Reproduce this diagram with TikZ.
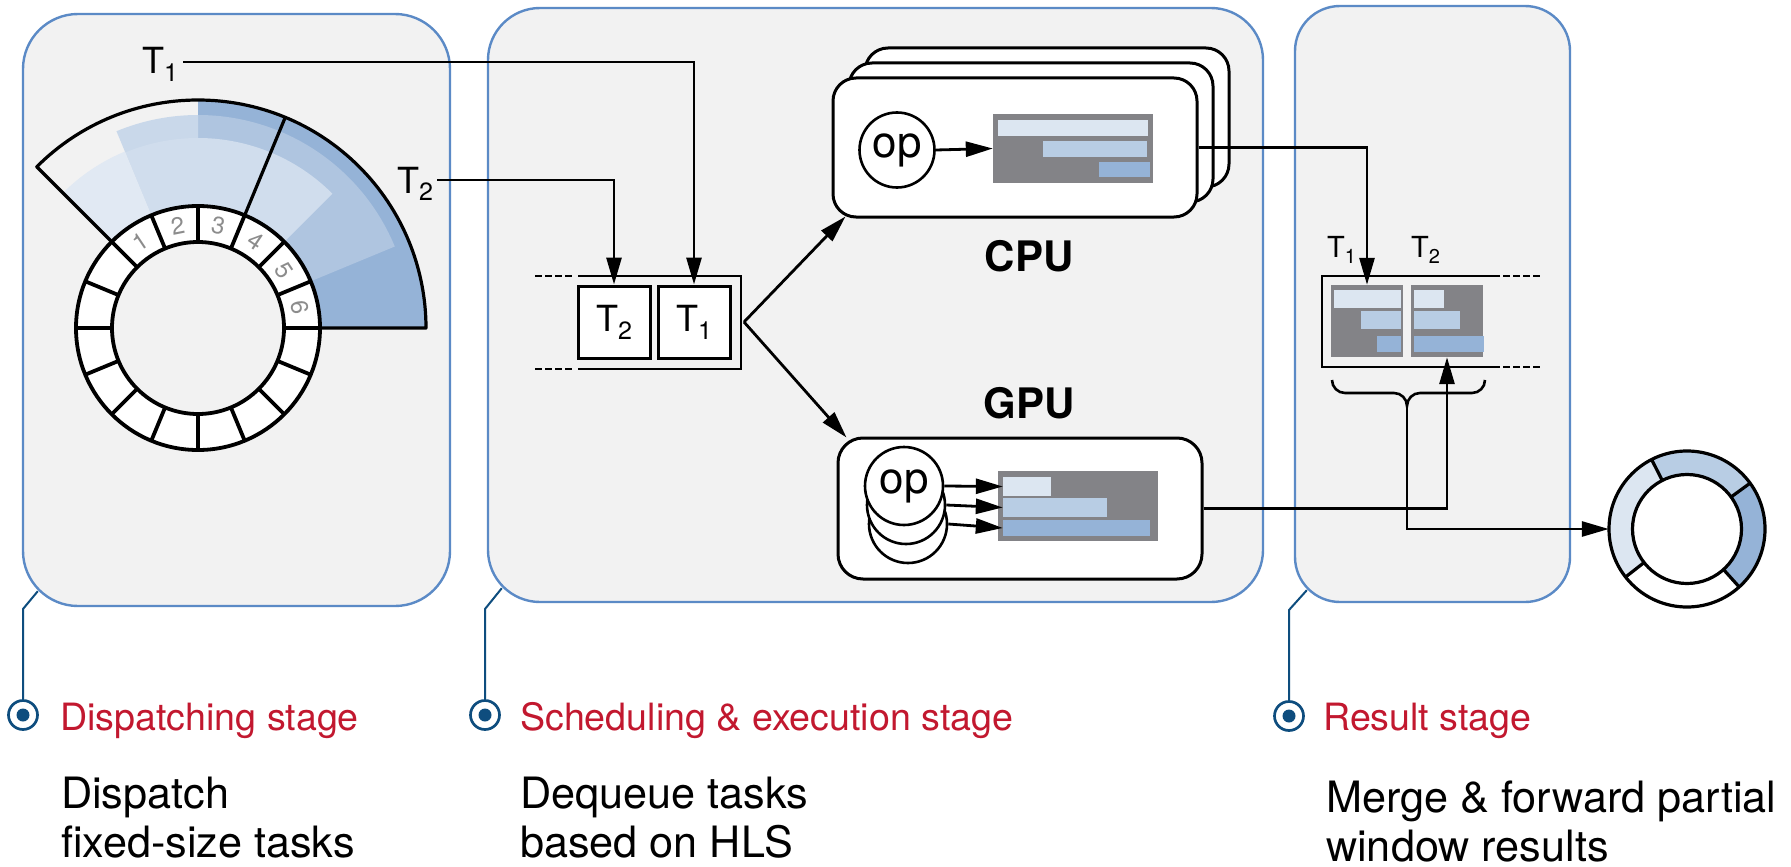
\documentclass[tikz,border=0pt]{standalone}
\usepackage{fontspec}
\setmainfont{TeX Gyre Heros}
\usetikzlibrary{arrows.meta,calc}

\definecolor{stagefill}{HTML}{F2F2F2}
\definecolor{stageline}{HTML}{5B8AC6}
\definecolor{tupA}{HTML}{DCE6F1}
\definecolor{tupB}{HTML}{B8CDE4}
\definecolor{tupC}{HTML}{95B3D7}
\definecolor{fanA}{HTML}{E1E9F3}
\definecolor{fanB}{HTML}{D0DDED}
\definecolor{fanBb}{HTML}{C9D8EA}
\definecolor{fanC}{HTML}{AFC5E0}
\definecolor{fanD}{HTML}{95B3D7}
\definecolor{blockgray}{HTML}{838387}
\definecolor{stagered}{HTML}{C2182F}
\definecolor{markblue}{HTML}{0E4D7E}
\definecolor{numgray}{HTML}{8C8C8C}

% task name with a lowered index, e.g. \Tn{1}{25}
\newcommand{\Tn}[2]{T\raisebox{-0.22em}{\fontsize{#2}{#2}\selectfont #1}}
% annular sector: colour, start angle, end angle, inner radius, outer radius
\newcommand{\fansector}[5]{\fill[#1] (#2:#4) arc[start angle=#2, end angle=#3, radius=#4] -- (#3:#5) arc[start angle=#3, end angle=#2, radius=#5] -- cycle;}

\begin{document}
\begin{tikzpicture}[x=1pt,y=1pt,
  stagebox/.style={draw=stageline, fill=stagefill, line width=2.4pt, inner sep=0pt},
  unitbox/.style={draw=black, fill=white, line width=3pt, inner sep=0pt},
  opnode/.style={circle, draw=black, fill=white, line width=2.6pt, inner sep=0pt, font=\fontsize{44}{44}\selectfont},
  cellbox/.style={draw=black, fill=white, line width=3pt, minimum width=72pt, minimum height=72pt, inner sep=0pt, font=\fontsize{36}{36}\selectfont},
  gblock/.style={fill=blockgray, inner sep=0pt},
  tupbar/.style={inner sep=0pt},
  flow/.style={draw=black, line width=2.8pt, -{Triangle[length=27pt,width=15pt]}},
  plainline/.style={draw=black, line width=2.6pt},
  dashline/.style={draw=black, line width=2.6pt, dash pattern=on 6.5pt off 3.5pt},
  ringline/.style={draw=black, line width=3.8pt},
  fanline/.style={draw=black, line width=3.2pt},
  numlbl/.style={text=numgray, font=\fontsize{24}{24}\selectfont, inner sep=0pt},
  tlabel/.style={font=\fontsize{36}{36}\selectfont, inner sep=0pt},
  tsmall/.style={font=\fontsize{29}{29}\selectfont, inner sep=0pt},
  devlbl/.style={font=\bfseries\fontsize{42}{42}\selectfont, inner sep=0pt},
  stagelbl/.style={text=stagered, font=\fontsize{37.6}{40}\selectfont, inner sep=0pt},
  desc/.style={font=\fontsize{43.2}{49}\selectfont, inner sep=0pt},
  callout/.style={draw=markblue, line width=2pt},
  marker/.style={circle, draw=markblue, line width=2.7pt, fill=white, minimum size=29pt, inner sep=0pt},
]
\useasboundingbox (0,0) rectangle (1791,-867);
\fill[white] (0,0) rectangle (1791,-867);

% ---------- stage panels ----------
\node[stagebox, rounded corners=55pt, minimum width=427pt, minimum height=592pt] (s1) at (236.5,-310) {};
\node[stagebox, rounded corners=52pt, minimum width=775pt, minimum height=594pt] (s2) at (875.5,-305) {};
\node[stagebox, rounded corners=45pt, minimum width=275pt, minimum height=596pt] (s3) at (1432.5,-304) {};

% ---------- ring buffer with task fans ----------
\begin{scope}[shift={(198,-328)}]
  \fansector{fanD}{0}{90}{122pt}{228pt}
  \fansector{fanC}{22.5}{90}{122pt}{213pt}
  \fansector{fanBb}{90}{112.5}{122pt}{213pt}
  \fansector{fanB}{45}{112.5}{122pt}{190pt}
  \fansector{fanA}{112.5}{135}{122pt}{191pt}
  % slots
  \fill[white, even odd rule] (0,0) circle (122pt) (0,0) circle (86pt);
  \foreach \a in {0,22.5,...,337.5} \draw[ringline] (\a:86pt) -- (\a:122pt);
  \draw[ringline] (0,0) circle (122pt);
  \draw[ringline] (0,0) circle (86pt);
  % fan outline
  \draw[fanline, line join=round] (135:122pt) -- (135:228pt) arc[start angle=135, end angle=0, radius=228pt] -- (0:122pt);
  \draw[fanline] (67.5:122pt) -- (67.5:228pt);
  % slot numbers
  \foreach \i/\a in {1/123.75, 2/101.25, 3/78.75, 4/56.25, 5/33.75, 6/11.25}
    \node[numlbl, rotate=\a-90] (slot\i) at (\a:104pt) {\i};
\end{scope}

% ---------- task labels ----------
\node[tlabel, anchor=base west] (lblT1) at (142,-74) {\Tn{1}{25}};
\node[tlabel, anchor=base west] (lblT2) at (397,-193) {\Tn{2}{25}};
\coordinate (t1start) at (183,-62);
\coordinate (t2start) at (437,-180);

% ---------- task queue ----------
\draw[plainline] (578,-276) -- (741,-276) -- (741,-369) -- (578,-369);
\draw[dashline] (535,-276) -- (573,-276);
\draw[dashline] (535,-369) -- (573,-369);
\node[cellbox] (q2) at (614,-322) {\Tn{2}{25}};
\node[cellbox] (q1) at (694,-322) {\Tn{1}{25}};
\coordinate (qout) at (744,-322);

\draw[flow] (t1start) -| (q1.north);
\draw[flow] (t2start) -| (q2.north);

% ---------- CPU workers ----------
\node[unitbox, rounded corners=23pt, minimum width=364pt, minimum height=139pt] (cpu3) at (1047,-117.5) {};
\node[unitbox, rounded corners=23pt, minimum width=364pt, minimum height=139pt] (cpu2) at (1031,-132.5) {};
\node[unitbox, rounded corners=23pt, minimum width=364pt, minimum height=139pt] (cpu) at (1015,-147.5) {};
\node[opnode, minimum size=75pt] (cop) at (897,-150) {op};
\node[gblock, minimum width=160pt, minimum height=69pt] (cblk) at (1073,-148.5) {};
\fill[tupA] (998,-120) rectangle (1148,-136);
\fill[tupB] (1043,-141) rectangle (1147,-157);
\fill[tupC] (1099,-162) rectangle (1150,-177);
\draw[flow] (cop.east) -- (cblk.west);
\node[devlbl, anchor=base] (cpulbl) at (1029,-271) {CPU};

% ---------- GPU worker ----------
\node[unitbox, rounded corners=25pt, minimum width=364pt, minimum height=141pt] (gpu) at (1020,-508.5) {};
\node[opnode, minimum size=78pt] (gop3) at (908,-524) {};
\node[opnode, minimum size=78pt] (gop2) at (906,-505) {};
\node[opnode, minimum size=78pt] (gop1) at (904,-486) {op};
\node[gblock, minimum width=160pt, minimum height=70pt] (gblk) at (1078,-506) {};
\node[tupbar, fill=tupA, minimum width=48pt, minimum height=19pt] (gb1) at (1027,-486.5) {};
\node[tupbar, fill=tupB, minimum width=104pt, minimum height=19pt] (gb2) at (1055,-507.5) {};
\node[tupbar, fill=tupC, minimum width=147pt, minimum height=16pt] (gb3) at (1076.5,-528) {};
\draw[flow] (gop1.east) -- (gb1.west);
\draw[flow] (gop2.east) -- (gb2.west);
\draw[flow] (gop3.east) -- (gb3.west);
\node[devlbl, anchor=base] (gpulbl) at (1029,-418) {GPU};

\draw[flow] (qout) -- ($(cpu.south west)+(14,2)$);
\draw[flow] (qout) -- ($(gpu.north west)+(10,-1)$);

% ---------- result buffer ----------
\draw[plainline] (1500,-276) -- (1322,-276) -- (1322,-367) -- (1500,-367);
\draw[dashline] (1503,-276) -- (1542,-276);
\draw[dashline] (1503,-367) -- (1542,-367);
\node[gblock, minimum width=72pt, minimum height=72pt] (rb1) at (1367,-321) {};
\node[gblock, minimum width=72pt, minimum height=72pt] (rb2) at (1447,-321) {};
\fill[tupA] (1334,-290) rectangle (1401,-308);
\fill[tupB] (1361,-311) rectangle (1401,-329);
\fill[tupC] (1377,-336) rectangle (1401,-352);
\fill[tupA] (1414,-290) rectangle (1444,-308);
\fill[tupB] (1414,-311) rectangle (1460,-329);
\fill[tupC] (1414,-336) rectangle (1484,-352);
\node[tsmall, anchor=base west] (rl1) at (1327,-257) {\Tn{1}{20}};
\node[tsmall, anchor=base west] (rl2) at (1411,-257) {\Tn{2}{20}};

\draw[flow] (cpu.east) -| (rb1.north);
\draw[flow] (gpu.east) -| (rb2.south);

% merge brace
\coordinate (brl) at (1332,-380);
\draw[plainline] (brl) arc[start angle=180, end angle=270, radius=13pt] -- (1394,-393)
  arc[start angle=90, end angle=0, radius=13pt] coordinate (bracetip)
  arc[start angle=180, end angle=90, radius=13pt] -- (1472,-393)
  arc[start angle=270, end angle=360, radius=13pt];

% ---------- window output ring ----------
\node[circle, inner sep=0pt, minimum size=156pt] (win) at (1687,-529) {};
\begin{scope}[shift={(win.center)}]
  \fansector{tupA}{117}{218}{54.5pt}{78pt}
  \fansector{tupB}{36}{117}{54.5pt}{78pt}
  \fansector{tupC}{-48}{36}{54.5pt}{78pt}
  \fansector{white}{218}{312}{54.5pt}{78pt}
  \fill[white] (0,0) circle (54.5pt);
  \draw[fanline] (0,0) circle (78pt);
  \draw[fanline] (0,0) circle (54.5pt);
  \foreach \a in {117,36,-48,218} \draw[fanline] (\a:54.5pt) -- (\a:78pt);
\end{scope}
\draw[flow] (bracetip) |- (win.west);

% ---------- stage captions ----------
\node[marker] (m1) at (23,-715) {};
\node[marker] (m2) at (485,-715) {};
\node[marker] (m3) at (1289,-716) {};
\fill[markblue] (m1.center) circle (6.5pt);
\fill[markblue] (m2.center) circle (6.5pt);
\fill[markblue] (m3.center) circle (6.5pt);
\coordinate (c1) at ($(s1.south west)+(16,16)$);
\coordinate (c2) at ($(s2.south west)+(15,15)$);
\coordinate (c3) at ($(s3.south west)+(13,13)$);
\draw[callout] (c1) -- (23,-609) -- (m1.north);
\draw[callout] (c2) -- (485,-609) -- (m2.north);
\draw[callout] (c3) -- (1289,-610) -- (m3.north);

\node[stagelbl, anchor=base west] (st1) at (60,-730) {Dispatching stage};
\node[stagelbl, anchor=base west] (st2) at (520,-730) {Scheduling \& execution stage};
\node[stagelbl, anchor=base west] (st3) at (1323,-730) {Result stage};

\node[desc, anchor=base west] (d1a) at (61,-808) {Dispatch};
\node[desc, anchor=base west] (d1b) at (61,-857) {fixed-size tasks};
\node[desc, anchor=base west] (d2a) at (520,-808) {Dequeue tasks};
\node[desc, anchor=base west] (d2b) at (520,-857) {based on HLS};
\node[desc, anchor=base west] (d3a) at (1326,-812) {Merge \& forward partial};
\node[desc, anchor=base west] (d3b) at (1326,-861) {window results};
\end{tikzpicture}
\end{document}
